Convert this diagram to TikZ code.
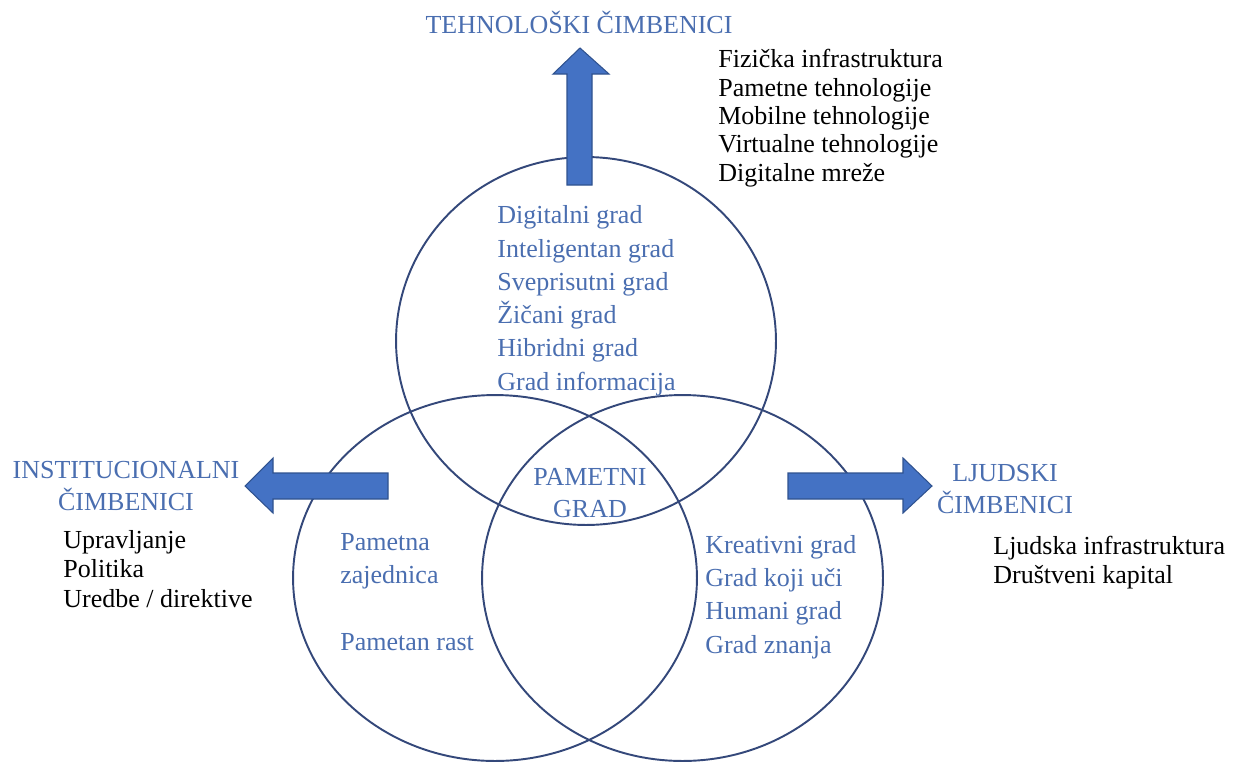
\documentclass[tikz,border=0pt]{standalone}
\usepackage{fontspec}
\setmainfont{Liberation Serif}
\definecolor{arrowblue}{HTML}{4472C4}
\definecolor{arrowedge}{HTML}{2F528F}
\definecolor{txtblue}{HTML}{4A6EB0}
\definecolor{ringcol}{HTML}{34487A}
\tikzset{
  heading/.style={text=txtblue, align=center, inner sep=0pt, anchor=base,
    font=\fontsize{14.8}{18.2}\selectfont},
  bluelist/.style={text=txtblue, align=left, inner sep=0pt, anchor=base west,
    font=\fontsize{14.8}{18.9}\selectfont},
  blacklist/.style={text=black, align=left, inner sep=0pt, anchor=base west,
    font=\fontsize{14.8}{16.1}\selectfont},
  ring/.style={draw=ringcol, line width=1.1pt},
  blockarrow/.style={fill=arrowblue, draw=arrowedge, line width=0.6pt}
}
\begin{document}
\begin{tikzpicture}[x=0.02cm, y=-0.02cm]
   \useasboundingbox (0,0) rectangle (1239,761);
   % the three circles
   \draw[ring] (586,341) ellipse [x radius=3.8cm, y radius=3.68cm];
   \draw[ring] (495,578) ellipse [x radius=4.04cm, y radius=3.66cm];
   \draw[ring] (682.5,578) ellipse [x radius=4.01cm, y radius=3.66cm];
   % block arrows
   \draw[blockarrow] (567,185) -- (567,74) -- (553,74) -- (580,48) -- (609,74) -- (592,74) -- (592,185) -- cycle;
   \draw[blockarrow] (388,473) -- (273,473) -- (273,458) -- (245,486) -- (273,513) -- (273,499) -- (388,499) -- cycle;
   \draw[blockarrow] (788,473) -- (903,473) -- (903,458) -- (932,486) -- (903,513) -- (903,499) -- (788,499) -- cycle;
   % headings (base = last line)
   \node[heading] (tech) at (579,33) {TEHNOLOŠKI ČIMBENICI};
   \node[heading] (inst) at (126,510) {INSTITUCIONALNI\\ČIMBENICI};
   \node[heading] (human) at (1005,513) {LJUDSKI\\ČIMBENICI};
   \node[heading] (smart) at (590,517) {PAMETNI\\GRAD};
   % factor lists
   \node[blacklist] (techlist) at (718,181) {Fizička infrastruktura\\Pametne tehnologije\\Mobilne tehnologije\\Virtualne tehnologije\\Digitalne mreže};
   \node[blacklist, font=\fontsize{14.8}{16.7}\selectfont] (instlist) at (63,607) {Upravljanje\\Politika\\Uredbe / direktive};
   \node[blacklist] (humanlist) at (993,583) {Ljudska infrastruktura\\Društveni kapital};
   % city types
   \node[bluelist] (techcity) at (497,390) {Digitalni grad\\Inteligentan grad\\Sveprisutni grad\\Žičani grad\\Hibridni grad\\Grad informacija};
   \node[bluelist] (instcity) at (340,650) {Pametna\\zajednica\\[18.9pt]Pametan rast};
   \node[bluelist] (humancity) at (705,653) {Kreativni grad\\Grad koji uči\\Humani grad\\Grad znanja};
\end{tikzpicture}
\end{document}
